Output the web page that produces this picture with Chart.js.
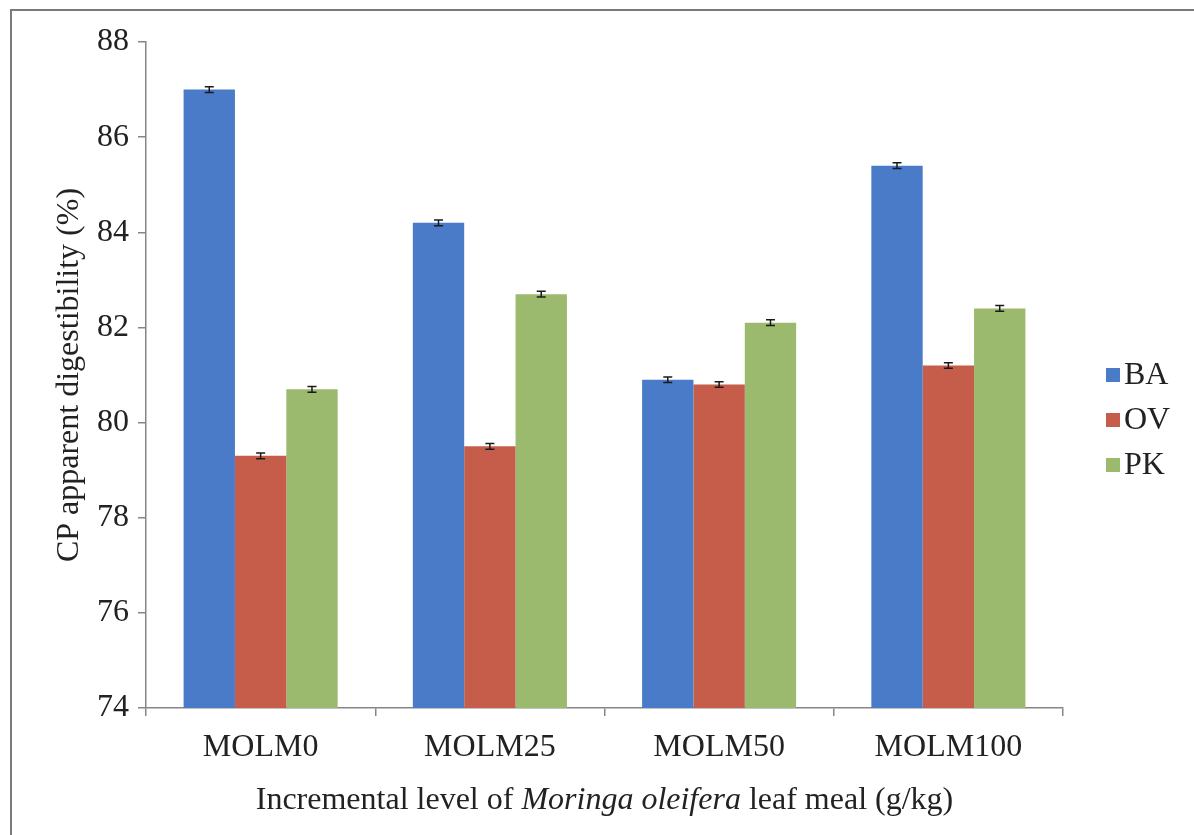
<!DOCTYPE html>
<html>
<head>
<meta charset="utf-8">
<script src="https://cdn.jsdelivr.net/npm/chart.js@4.4.1/dist/chart.umd.min.js"></script>
<style>
  html, body { margin: 0; padding: 0; background: #ffffff; }
  #wrap { width: 1194px; height: 835px; position: relative; }
  canvas { display: block; }
</style>
</head>
<body>
<div id="wrap"><canvas id="c" width="1194" height="835"></canvas></div>
<script>
const categories = ['MOLM0', 'MOLM25', 'MOLM50', 'MOLM100'];
const seriesNames = ['BA', 'OV', 'PK'];
const baValues = [87.0, 84.2, 80.9, 85.4];
const ovValues = [79.3, 79.5, 80.8, 81.2];
const pkValues = [80.7, 82.7, 82.1, 82.4];
const baErrors = [0.06, 0.06, 0.06, 0.06];
const ovErrors = [0.06, 0.06, 0.06, 0.06];
const pkErrors = [0.06, 0.06, 0.06, 0.06];
const yTicks = [74, 76, 78, 80, 82, 84, 86, 88];
const yTitle = 'CP apparent digestibility (%)';
const xTitleParts = [
  ['Incremental level of ', false],
  ['Moringa oleifera', true],
  [' leaf meal (g/kg)', false]
];

const colors = ['#4a7bc8', '#c65c4a', '#9cba6e'];
const FONT = "'Liberation Serif', 'Times New Roman', serif";
const TEXT = '#222222';
const AXIS = '#868686';
const FS = 32;

const errorBars = {
  id: 'errorBars',
  afterDatasetsDraw(chart) {
    const ctx = chart.ctx;
    const y = chart.scales.y;
    ctx.save();
    ctx.strokeStyle = '#1a1a1a';
    ctx.lineWidth = 1.5;
    chart.data.datasets.forEach((ds, di) => {
      const meta = chart.getDatasetMeta(di);
      meta.data.forEach((bar, i) => {
        const v = ds.data[i], e = ds.errors[i];
        const yt = y.getPixelForValue(v + e);
        const yb = y.getPixelForValue(v - e);
        const x = bar.x;
        ctx.beginPath();
        ctx.moveTo(x, yt); ctx.lineTo(x, yb);
        ctx.moveTo(x - 4.5, yt); ctx.lineTo(x + 4.5, yt);
        ctx.moveTo(x - 4.5, yb); ctx.lineTo(x + 4.5, yb);
        ctx.stroke();
      });
    });
    ctx.restore();
  }
};

const extras = {
  id: 'extras',
  afterDraw(chart) {
    const ctx = chart.ctx;
    const area = chart.chartArea;
    ctx.save();
    // frame lines (top and left)
    ctx.strokeStyle = '#7a7a7a';
    ctx.lineWidth = 2;
    ctx.beginPath();
    ctx.moveTo(11, 835); ctx.lineTo(11, 10); ctx.lineTo(1194, 10);
    ctx.stroke();

    // x-axis title with italic species name
    let total = 0;
    const widths = xTitleParts.map(([t, it]) => {
      ctx.font = (it ? 'italic ' : '') + FS + 'px ' + FONT;
      const w = ctx.measureText(t).width;
      total += w;
      return w;
    });
    let x = (area.left + area.right) / 2 - total / 2;
    ctx.fillStyle = TEXT;
    ctx.textBaseline = 'middle';
    ctx.textAlign = 'left';
    xTitleParts.forEach(([t, it], i) => {
      ctx.font = (it ? 'italic ' : '') + FS + 'px ' + FONT;
      ctx.fillText(t, x, 801);
      x += widths[i];
    });

    // legend
    const lx = 1106, ly0 = 375, step = 45;
    chart.data.datasets.forEach((ds, i) => {
      const cy = ly0 + i * step;
      ctx.fillStyle = ds.backgroundColor;
      ctx.fillRect(lx, cy - 7, 14, 14);
      ctx.fillStyle = TEXT;
      ctx.font = FS + 'px ' + FONT;
      ctx.textBaseline = 'middle';
      ctx.fillText(ds.label, lx + 18, cy + 1);
    });
    ctx.restore();
  }
};

const datasets = [
  { label: seriesNames[0], data: baValues, errors: baErrors, backgroundColor: colors[0] },
  { label: seriesNames[1], data: ovValues, errors: ovErrors, backgroundColor: colors[1] },
  { label: seriesNames[2], data: pkValues, errors: pkErrors, backgroundColor: colors[2] }
].map(d => Object.assign(d, { borderWidth: 0, barPercentage: 1.0, categoryPercentage: 0.672 }));

new Chart(document.getElementById('c'), {
  type: 'bar',
  data: { labels: categories, datasets },
  options: {
    responsive: false,
    animation: false,
    devicePixelRatio: 1,
    layout: { padding: { top: 42, right: 131, left: 0, bottom: 0 } },
    plugins: {
      legend: { display: false },
      tooltip: { enabled: false }
    },
    scales: {
      x: {
        offset: true,
        afterFit(s) { s.height = 127; },
        grid: { display: true, offset: true, drawOnChartArea: false, drawTicks: true, tickLength: 8, color: AXIS, lineWidth: 1.5 },
        border: { display: true, color: AXIS, width: 1.5 },
        ticks: { color: TEXT, font: { family: FONT, size: FS }, padding: 12, maxRotation: 0 }
      },
      y: {
        min: 74, max: 88,
        afterFit(s) { s.width = 146; },
        afterBuildTicks(s) { s.ticks = yTicks.map(v => ({ value: v })); },
        grid: { display: true, drawOnChartArea: false, drawTicks: true, tickLength: 8, color: AXIS, lineWidth: 1.5 },
        border: { display: true, color: AXIS, width: 1.5 },
        ticks: { color: TEXT, font: { family: FONT, size: FS }, padding: 9 },
        title: { display: true, text: yTitle, color: TEXT, font: { family: FONT, size: FS }, padding: { top: 50, bottom: 0 } }
      }
    }
  },
  plugins: [errorBars, extras]
});
</script>
</body>
</html>
